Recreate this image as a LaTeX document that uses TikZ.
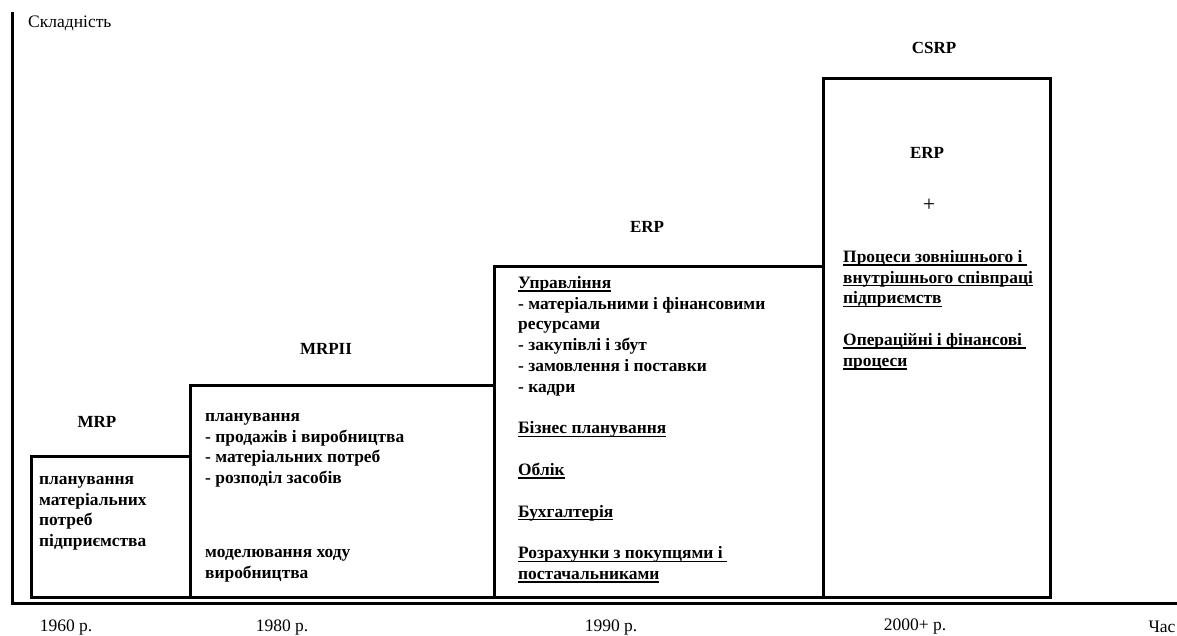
\documentclass[tikz,border=0pt]{standalone}
\usepackage{fontspec}
\setmainfont{Liberation Serif}

% thick underline that does not change the line height
\newcommand{\ulin}[1]{\setbox0=\hbox{#1}\rlap{\vrule height -2pt depth 3.4pt width \wd0}\box0}
\newcommand{\firstl}{\rule{0pt}{14pt}}

\begin{document}
\begin{tikzpicture}[x=1pt,y=-1pt,
  box/.style={draw=black, line width=3pt, rectangle, inner sep=0pt, outer sep=0pt, anchor=north west},
  hdr/.style={font=\fontsize{17}{20.8}\selectfont\bfseries, inner sep=0pt},
  body/.style={font=\fontsize{17.4}{20.8}\selectfont\bfseries, align=left, anchor=north west, inner sep=0pt},
  lbl/.style={font=\fontsize{17.5}{20}\selectfont, inner sep=0pt}]
\useasboundingbox (0,0) rectangle (1177,636);

% axes
\coordinate (ytop) at (12,12);
\coordinate (orig) at (12,603);
\coordinate (xend) at (1177,603);
\draw[line width=3pt] (ytop) -- (orig) -- (xend);

% boxes
\node[box, minimum width=159pt, minimum height=141pt] (mrpbox) at (31,456) {};
\node[box, minimum width=304pt, minimum height=212pt] (mrpiibox) at (190,385) {};
\node[box, minimum width=329pt, minimum height=331pt] (erpbox) at (494,266) {};
\node[box, minimum width=227pt, minimum height=518pt] (csrpbox) at (823,79) {};

% headings
\node[hdr] (mrphd) at (97,422) {MRP};
\node[hdr] (mrpiihd) at (326,349) {MRPII};
\node[hdr] (erphd) at (647,227) {ERP};
\node[hdr] (csrphd) at (934,48) {CSRP};
\node[hdr] (erpin) at (927,153) {ERP};
\node[font=\fontsize{22}{24}\selectfont, inner sep=0pt] (plus) at (929,205) {+};

% box texts
\node[body] (mrptxt) at (39,470) {\firstl планування\\матеріальних\\потреб\\підприємства};
\node[body] (mrpiitxt) at (205,407) {\firstl планування\\- продажів і виробництва\\- матеріальних потреб\\- розподіл засобів};
\node[body] (mrpiisim) at (205,543) {\firstl моделювання ходу\\виробництва};
\node[body] (erptxt) at (518,274) {\firstl\ulin{Управління}\\- матеріальними і фінансовими\\ресурсами\\- закупівлі і збут\\- замовлення і поставки\\- кадри\\[20.8pt]\ulin{Бізнес планування}\\[20.8pt]\ulin{Облік}\\[20.8pt]\ulin{Бухгалтерія}\\[20.8pt]\ulin{Розрахунки з покупцями і\ }\\\ulin{постачальниками}};
\node[body] (csrptxt) at (843,248) {\firstl\ulin{Процеси зовнішнього і\ }\\\ulin{внутрішнього співпраці}\\\ulin{підприємств}\\[20.8pt]\ulin{Операційні і фінансові\ }\\\ulin{процеси}};

% axis labels
\node[lbl, anchor=west] (ylbl) at (28,23) {Складність};
\node[lbl] (t1960) at (66,627.5) {1960 р.};
\node[lbl] (t1980) at (282,627.5) {1980 р.};
\node[lbl] (t1990) at (611,627.5) {1990 р.};
\node[lbl] (t2000) at (915,626.5) {2000+ р.};
\node[lbl] (tlbl) at (1162,627) {Час};
\end{tikzpicture}
\end{document}
